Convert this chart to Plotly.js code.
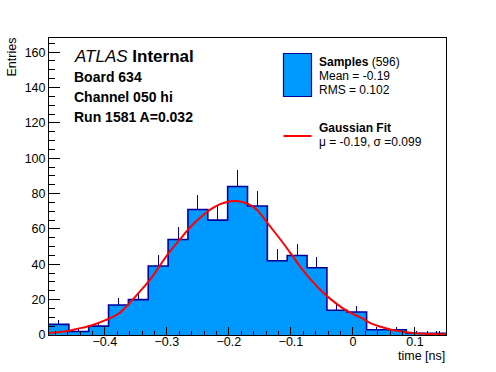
<!DOCTYPE html>
<html>
<head>
<meta charset="utf-8">
<script src="https://cdn.plot.ly/plotly-3.0.1.min.js"></script>
<style>html,body{margin:0;padding:0;background:#fff;}#chart{width:496px;height:372px;}</style>
</head>
<body>
<div id="chart"></div>
<script>
// ---- Data ----
const binLow = -0.49;
const binWidth = 0.032;
const counts = [6, 2, 5, 17, 20, 39, 54, 71, 65, 84, 73, 42, 45, 38, 14, 13, 3, 3, 1, 1];
// Gaussian fit curve
const fitX = [-0.490, -0.465, -0.443, -0.422, -0.400, -0.378, -0.362, -0.345, -0.327, -0.311, -0.295, -0.278, -0.262, -0.246, -0.230, -0.214, -0.197, -0.187, -0.170, -0.154, -0.138, -0.116, -0.100, -0.084, -0.068, -0.052, -0.035, -0.019, -0.003, 0.013, 0.030, 0.046, 0.062, 0.078, 0.094, 0.115, 0.152];
const fitY = [1.2, 2.0, 3.6, 5.4, 8.3, 12.0, 17.3, 24.0, 31.3, 39.4, 47.3, 54.5, 61.1, 66.4, 70.9, 74.0, 75.6, 75.8, 74.3, 70.6, 63.4, 53.6, 46.0, 38.1, 31.3, 25.3, 20.0, 15.8, 12.4, 9.8, 6.4, 4.5, 3.0, 2.0, 1.3, 0.7, 0.4];
const xTickStep = 0.1, xMinorStep = 0.02;
const yTickStep = 20, yMinorStep = 5;
const xRange = [-0.49, 0.15];
const yRange = [0, 168];

// ---- Derived ----
const centers = counts.map((c, i) => binLow + (i + 0.5) * binWidth);
const edges = counts.map((c, i) => binLow + i * binWidth).concat([binLow + counts.length * binWidth]);
const stepY = counts.concat([counts[counts.length - 1]]);
const errUp = counts.map(c => Math.sqrt(c));
const errDown = counts.map(c => 0);

const FILL = '#0099ff', NAVY = '#000099';
const FONT = 'Liberation Sans, Arial, Helvetica, sans-serif';

// pixel helpers for layout decorations (plot area: x 49..446, y 38..335)
const L = 49, R = 446, T = 38, B = 335;
const px = x => (x - L) / (R - L);
const py = y => (B - y) / (B - T);

const traces = [
  {type: 'bar', x: centers, y: counts, width: binWidth,
   marker: {color: FILL, line: {width: 0}},
   error_y: {type: 'data', symmetric: false, array: errUp, arrayminus: errDown,
             width: 0, color: NAVY, thickness: 1},
   hoverinfo: 'skip', showlegend: false},
  {type: 'scatter', mode: 'lines', x: edges, y: stepY,
   line: {shape: 'hv', color: NAVY, width: 1.6}, hoverinfo: 'skip', showlegend: false},
  {type: 'scatter', mode: 'lines', x: fitX, y: fitY,
   line: {shape: 'spline', color: '#ff0000', width: 2}, hoverinfo: 'skip', showlegend: false}
];

function ann(text, xpx, ypx, size, extra) {
  return Object.assign({text: text, xref: 'paper', yref: 'paper', x: px(xpx), y: py(ypx),
    xanchor: 'left', yanchor: 'middle', showarrow: false, borderpad: 0,
    font: {family: FONT, size: size, color: '#000'}}, extra || {});
}

const layout = {
  width: 496, height: 372,
  margin: {l: L, r: 496 - R, t: T, b: 372 - B, pad: 0},
  paper_bgcolor: '#fff', plot_bgcolor: '#fff',
  bargap: 0, showlegend: false,
  font: {family: FONT, size: 12.5, color: '#000'},
  xaxis: {range: xRange, tick0: 0, dtick: xTickStep, ticks: 'inside', ticklen: 8.5, tickwidth: 1,
          tickcolor: '#000', showline: true, mirror: true, linecolor: '#000', linewidth: 1,
          showgrid: false, zeroline: false, tickfont: {family: FONT, size: 12.5},
          ticklabelstandoff: -5,
          minor: {dtick: xMinorStep, ticks: 'inside', ticklen: 4, tickcolor: '#000', showgrid: false}},
  yaxis: {range: yRange, tick0: 0, dtick: yTickStep, ticks: 'inside', ticklen: 11, tickwidth: 1,
          tickcolor: '#000', showline: true, mirror: true, linecolor: '#000', linewidth: 1,
          showgrid: false, zeroline: false, tickfont: {family: FONT, size: 12.5},
          minor: {dtick: yMinorStep, ticks: 'inside', ticklen: 5.5, tickcolor: '#000', showgrid: false}},
  shapes: [
    {type: 'rect', xref: 'paper', yref: 'paper', x0: px(283.5), x1: px(311.5), y0: py(96.5), y1: py(53.5),
     fillcolor: FILL, line: {color: NAVY, width: 1.2}},
    {type: 'line', xref: 'paper', yref: 'paper', x0: px(283.5), x1: px(311.5), y0: py(136), y1: py(136),
     line: {color: '#ff0000', width: 2}}
  ],
  annotations: [
    ann('<i>ATLAS</i> <b>Internal</b>', 73, 56.8, 17),
    ann('<b>Board 634</b>', 73, 76.8, 14),
    ann('<b>Channel 050 hi</b>', 73, 96.8, 14),
    ann('<b>Run 1581 A=0.032</b>', 73, 116.8, 14),
    ann('<b>Samples</b> (596)', 317.5, 61.5, 12),
    ann('Mean = -0.19', 317.5, 75.6, 12),
    ann('RMS = 0.102', 317.5, 89.6, 12),
    ann('<b>Gaussian Fit</b>', 317.5, 128.0, 12),
    ann('\u03bc = -0.19, \u03c3 =0.099', 317.5, 141.8, 12),
    ann('time [ns]', 446, 355.5, 12.5, {xanchor: 'right'}),
    ann('Entries', 12, 37, 12.5, {xanchor: 'center', yanchor: 'top', textangle: -90})
  ]
};

Plotly.newPlot('chart', traces, layout, {staticPlot: true, displayModeBar: false});
</script>
</body>
</html>
